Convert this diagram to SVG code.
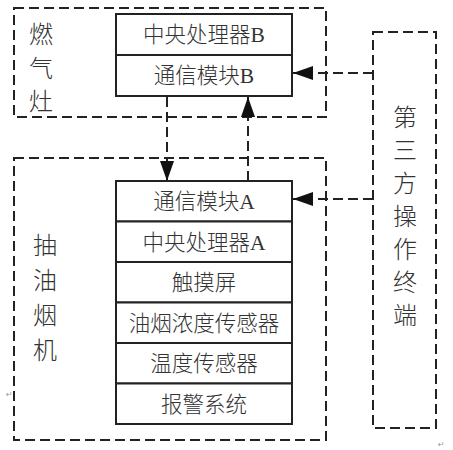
<svg xmlns="http://www.w3.org/2000/svg" width="453" height="450" viewBox="0 0 453 450">
<defs>
<style>
.outer{fill:none;stroke:#222;stroke-width:2;stroke-dasharray:10,5}
.box{fill:#fff;stroke:#222;stroke-width:2}
.conn{fill:none;stroke:#222;stroke-width:2;stroke-dasharray:10,5}
.t{font-family:"Liberation Serif","Noto Sans CJK SC",serif;font-size:21.5px;font-weight:300;fill:#333;text-anchor:middle}
.v{font-family:"Liberation Serif","Noto Sans CJK SC",serif;font-size:24px;font-weight:300;fill:#333;text-anchor:middle}
.r{font-family:"DejaVu Sans",sans-serif;font-size:8px;fill:#999}
</style>
<marker id="ah" markerUnits="userSpaceOnUse" markerWidth="20" markerHeight="14" refX="20" refY="7" orient="auto">
<path d="M0,0 L20,7 L0,14 Z" fill="#111"/>
</marker>
</defs>
<rect width="453" height="450" fill="#fff"/>
<g id="gas-stove">
<rect class="outer" x="14" y="8" width="312" height="109"/>
<text class="v" x="41" y="43">燃</text>
<text class="v" x="41" y="77">气</text>
<text class="v" x="41" y="110">灶</text>
</g>
<g id="cpu-b">
<rect class="box" x="116" y="14" width="176" height="41"/>
<text class="t" x="204" y="42">中央处理器B</text>
</g>
<g id="comm-b">
<rect class="box" x="116" y="55" width="176" height="41"/>
<text class="t" x="204" y="83">通信模块B</text>
</g>
<g id="hood">
<rect class="outer" x="14" y="158" width="312" height="282"/>
<text class="v" x="45" y="254">抽</text>
<text class="v" x="45" y="289">油</text>
<text class="v" x="45" y="324">烟</text>
<text class="v" x="45" y="359">机</text>
</g>
<g id="comm-a">
<rect class="box" x="116" y="181" width="176" height="40.5"/>
<text class="t" x="204" y="209">通信模块A</text>
</g>
<g id="cpu-a">
<rect class="box" x="116" y="221.5" width="176" height="40.5"/>
<text class="t" x="204" y="249.5">中央处理器A</text>
</g>
<g id="touch">
<rect class="box" x="116" y="262" width="176" height="40.5"/>
<text class="t" x="204" y="290">触摸屏</text>
</g>
<g id="fume-sensor">
<rect class="box" x="116" y="302.5" width="176" height="40.5"/>
<text class="t" x="204" y="330.5">油烟浓度传感器</text>
</g>
<g id="temp-sensor">
<rect class="box" x="116" y="343" width="176" height="40.5"/>
<text class="t" x="204" y="371">温度传感器</text>
</g>
<g id="alarm">
<rect class="box" x="116" y="383.5" width="176" height="40.5"/>
<text class="t" x="204" y="411.5">报警系统</text>
</g>
<g id="terminal">
<rect class="outer" x="373" y="32" width="63" height="396"/>
<text class="v" x="405" y="126">第</text>
<text class="v" x="405" y="159">三</text>
<text class="v" x="405" y="192">方</text>
<text class="v" x="405" y="225">操</text>
<text class="v" x="405" y="258">作</text>
<text class="v" x="405" y="291">终</text>
<text class="v" x="405" y="324">端</text>
</g>
<g id="connectors">
<path class="conn" d="M373,73 H293" marker-end="url(#ah)"/>
<path class="conn" d="M373,199 H293" marker-end="url(#ah)"/>
<path class="conn" d="M167,97 V181" marker-end="url(#ah)"/>
<path class="conn" d="M248,181 V97" marker-end="url(#ah)"/>
</g>
<text class="r" x="6" y="397">↵</text>
<text class="r" x="438" y="447">↵</text>
</svg>
